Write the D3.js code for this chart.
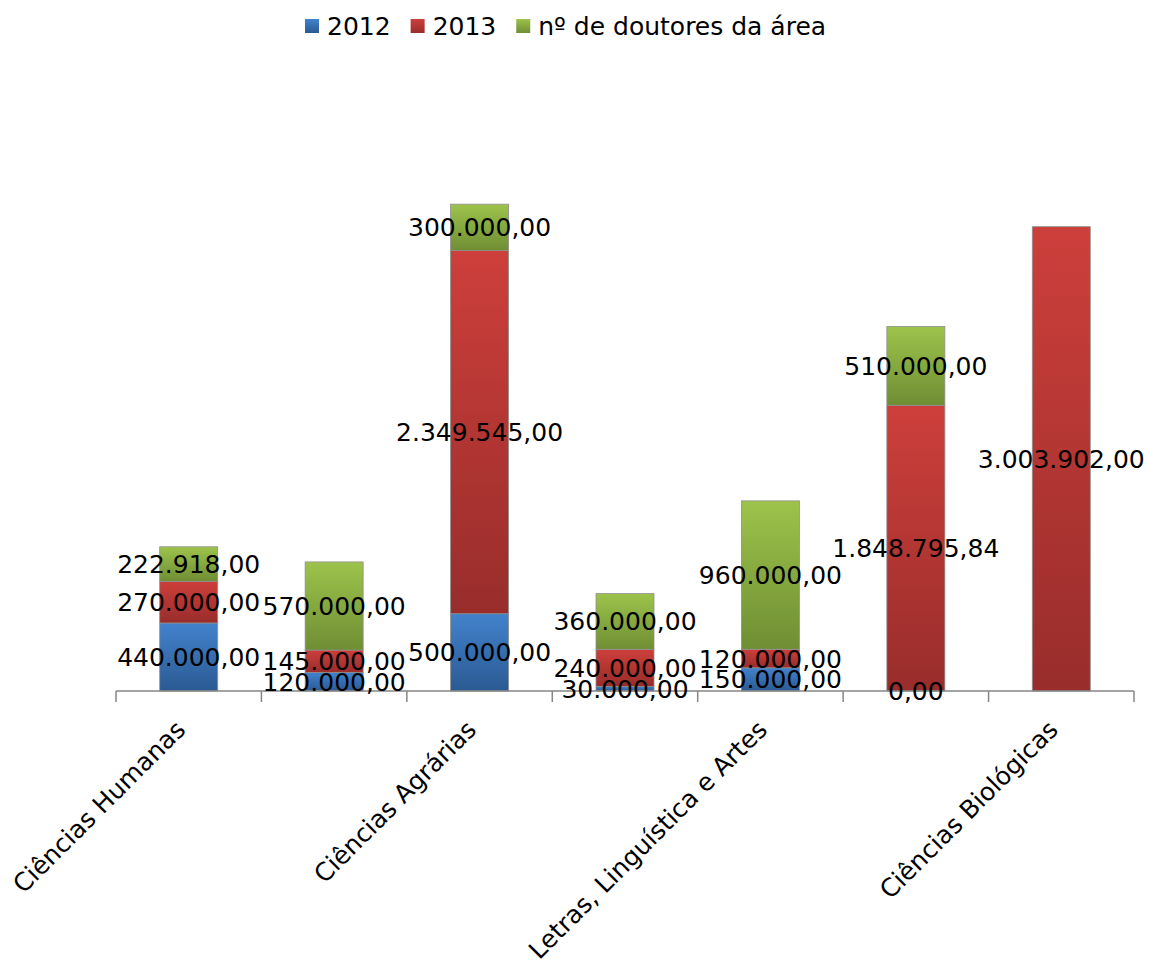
<!DOCTYPE html>
<html>
<head>
<meta charset="utf-8">
<script src="https://cdn.jsdelivr.net/npm/d3@7"></script>
<style>
  html, body { margin: 0; padding: 0; background: #fff; }
  svg { display: block; font-family: "DejaVu Sans", sans-serif; }
</style>
</head>
<body>
<svg id="chart" width="1149" height="963"></svg>
<script>
// Áreas (só algumas aparecem no eixo, como no gráfico original)
const categories = [
  "Ciências Humanas", "", "Ciências Agrárias", "",
  "Letras, Linguística e Artes", "", "Ciências Biológicas"
];
const seriesNames = ["2012", "2013", "nº de doutores da área"];
const values2012 = [440000, 120000, 500000, 30000, 150000, 0, null];
const values2013 = [270000, 145000, 2349545, 240000, 120000, 1848795.84, 3003902];
const valuesDoutores = [222918, 570000, 300000, 360000, 960000, 510000, null];
const yMax = 3500000;

const seriesValues = [values2012, values2013, valuesDoutores];
const colors = [
  { top: "#4282cc", bottom: "#2b5a93" },
  { top: "#cd3f3b", bottom: "#982d2b" },
  { top: "#9dc34b", bottom: "#6f8e34" }
];

const svg = d3.select("#chart");
const margin = { left: 116, right: 1134, top: 150, bottom: 691 };

const xOuter = d3.scaleBand()
  .domain(d3.range(categories.length))
  .range([margin.left, margin.right]);
const y = d3.scaleLinear().domain([0, yMax]).range([margin.bottom, margin.top]);

// gradients per series
const defs = svg.append("defs");
colors.forEach((c, i) => {
  const g = defs.append("linearGradient")
    .attr("id", "grad" + i).attr("x1", 0).attr("y1", 0).attr("x2", 0).attr("y2", 1);
  g.append("stop").attr("offset", "0%").attr("stop-color", c.top);
  g.append("stop").attr("offset", "100%").attr("stop-color", c.bottom);
});

// stacked table
const table = categories.map((c, i) => ({
  idx: i,
  s0: values2012[i] ?? 0,
  s1: values2013[i] ?? 0,
  s2: valuesDoutores[i] ?? 0
}));
const stack = d3.stack().keys(["s0", "s1", "s2"])(table);

const fmt = v => {
  const parts = v.toFixed(2).split(".");
  return parts[0].replace(/\B(?=(\d{3})+(?!\d))/g, ".") + "," + parts[1];
};

const barW = 58;
stack.forEach((layer, si) => {
  svg.append("g").selectAll("rect")
    .data(layer.filter(d => seriesValues[si][d.data.idx] !== null))
    .join("rect")
    .attr("x", d => xOuter(d.data.idx) + xOuter.bandwidth() / 2 - barW / 2)
    .attr("width", barW)
    .attr("y", d => y(d[1]))
    .attr("height", d => y(d[0]) - y(d[1]))
    .attr("fill", `url(#grad${si})`)
    .attr("stroke", "#8f8f8f")
    .attr("stroke-width", 0.8);
});

// axis line and ticks
const axisG = svg.append("g");
axisG.append("line")
  .attr("x1", margin.left).attr("x2", margin.right)
  .attr("y1", margin.bottom).attr("y2", margin.bottom)
  .attr("stroke", "#868686").attr("stroke-width", 1.5);
const tickXs = d3.range(categories.length).map(i => xOuter(i)).concat([margin.right]);
axisG.selectAll(".tick").data(tickXs).join("line")
  .attr("x1", d => d).attr("x2", d => d)
  .attr("y1", margin.bottom).attr("y2", margin.bottom + 11)
  .attr("stroke", "#868686").attr("stroke-width", 1.5);

// category labels
axisG.selectAll(".cat").data(categories.map((c, i) => ({ c, i })).filter(d => d.c))
  .join("text")
  .attr("transform", d => `translate(${xOuter(d.i) + xOuter.bandwidth() / 2 - 8},${margin.bottom + 34}) rotate(-45)`)
  .attr("text-anchor", "end")
  .attr("dy", "0.35em")
  .attr("font-size", 25)
  .attr("fill", "#000")
  .text(d => d.c);

// data labels
stack.forEach((layer, si) => {
  svg.append("g").selectAll("text")
    .data(layer.filter(d => seriesValues[si][d.data.idx] !== null))
    .join("text")
    .attr("x", d => xOuter(d.data.idx) + xOuter.bandwidth() / 2)
    .attr("y", d => (y(d[0]) + y(d[1])) / 2)
    .attr("dy", "0.36em")
    .attr("text-anchor", "middle")
    .attr("font-size", 25)
    .attr("fill", "#000")
    .text(d => fmt(seriesValues[si][d.data.idx]));
});

// legend
const legend = svg.append("g");
const legendItems = seriesNames.map((n, i) => ({ n, i }));
let lx = 305;
legendItems.forEach(d => {
  legend.append("rect")
    .attr("x", lx).attr("y", 19).attr("width", 14).attr("height", 14)
    .attr("fill", `url(#grad${d.i})`);
  const t = legend.append("text")
    .attr("x", lx + 22).attr("y", 35)
    .attr("font-size", 25).attr("fill", "#000")
    .text(d.n);
  lx += 22 + t.node().getComputedTextLength() + 20;
});
</script>
</body>
</html>
